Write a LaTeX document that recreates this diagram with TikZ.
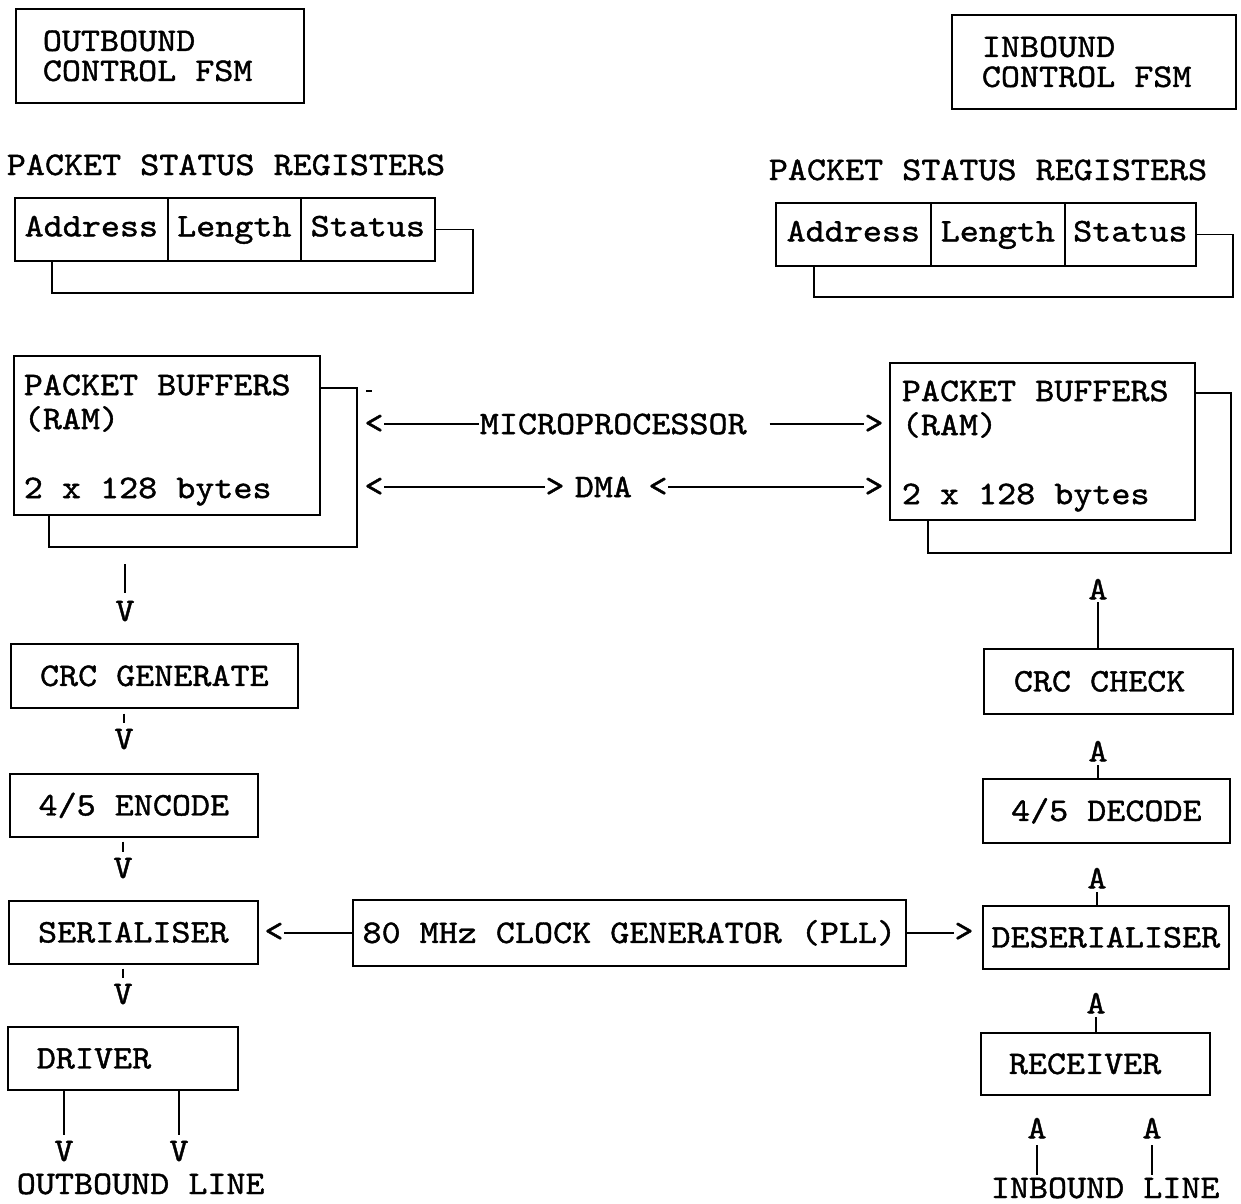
\documentclass[tikz,border=0pt]{standalone}
\usepackage{fontspec}
\newfontfamily\tw{lmmono10-regular.otf}[FakeStretch=1.1, FakeBold=1.2]
\newcommand\fsp{\spaceskip=0pt\xspaceskip=0pt\relax}
\begin{document}
\begin{tikzpicture}[x=1pt,y=-1pt, line width=1.7pt,
  every node/.style={font={\fontsize{33}{30}\tw}, inner sep=0pt},
  box/.style={draw, line width=1.7pt, anchor=north west, inner xsep=2pt, inner ysep=0pt},
  one/.style={text height=20.2pt, text depth=0pt},
  cell/.style={draw, line width=1.7pt, anchor=north west, minimum height=63pt, inner xsep=2pt, inner ysep=0pt, text height=21pt, text depth=7pt},
  arr/.style={anchor=center},
  head/.style={anchor=north}]
\useasboundingbox (0,0) rectangle (1241,1203);

% control FSMs
\node[box, minimum width=288pt, minimum height=94pt, inner xsep=27pt, text width=234pt, align=left] (outfsm) at (15,8) {\fsp OUTBOUND\\CONTROL FSM};
\node[box, minimum width=284pt, minimum height=94pt, inner xsep=30pt, text width=224pt, align=left] (infsm) at (951,14) {\fsp INBOUND\\CONTROL FSM};

% packet status registers
\node[anchor=base west] (tl) at (6,175) {PACKET STATUS REGISTERS};
\node[anchor=base west] (tr) at (768,180) {PACKET STATUS REGISTERS};

\node[cell, minimum width=153pt] (la) at (14,197) {Address};
\node[cell, minimum width=133pt] (ll) at (167,197) {Length};
\node[cell, minimum width=134pt] (ls) at (300,197) {Status};
\draw (ls.east) -| (473,293) -| ([xshift=38pt]la.south west);

\node[cell, minimum width=155pt] (ra) at (775,202) {Address};
\node[cell, minimum width=134pt] (rl) at (930,202) {Length};
\node[cell, minimum width=131pt] (rs) at (1064,202) {Status};
\draw (rs.east) -| (1233,297) -| ([xshift=39pt]ra.south west);

% packet buffers
\node[box, minimum width=306pt, minimum height=159pt, inner xsep=10pt, text width=286pt, align=left] (bl) at (13,355) {\fsp\rule{0pt}{30pt}PACKET BUFFERS\\[4pt](RAM)\\[39pt]2 x 128 bytes};
\draw ([yshift=-33pt]bl.north east) -| (357,547) -| ([xshift=36pt]bl.south west);
\node[box, minimum width=305pt, minimum height=157pt, inner xsep=12pt, text width=281pt, align=left] (br) at (889,362) {\fsp\rule{0pt}{30pt}PACKET BUFFERS\\[4pt](RAM)\\[39pt]2 x 128 bytes};
\draw ([yshift=-31pt]br.north east) -| (1231,553) -| ([xshift=39pt]br.south west);
\draw[line width=2.4pt] (366,391) -- (372,391);

% microprocessor / DMA
\node[anchor=west, one] (mp) at (479,424) {MICROPROCESSOR};
\node[arr] (mpl) at (374,424) {<};
\node[arr] (mpr) at (874,424) {>};
\draw (mpl.east) -- (mp.west);
\draw ([xshift=22pt]mp.east) -- (mpr.west);

\node[arr] (dl1) at (374,487) {<};
\node[arr] (dr1) at (555,487) {>};
\node[anchor=west, one] (dma) at (574,487) {DMA};
\node[arr] (dl2) at (658,487) {<};
\node[arr] (dr2) at (874,487) {>};
\draw (dl1.east) -- (dr1.west);
\draw (dl2.east) -- (dr2.west);

% clock
\node[box, one, minimum width=553pt, minimum height=66pt] (clk) at (352,899) {80 MHz CLOCK GENERATOR (PLL)};
\node[arr] (cl) at (274,932) {<};
\node[arr] (cr) at (964,932) {>};
\draw (clk.west -| cl.east) -- (clk.west);
\draw (clk.east) -- (clk.east -| cr.west);

% outbound column
\coordinate (s1) at (125,564);
\node[head] (v1) at (125,600) {V};
\draw (s1) -- ([yshift=7pt]v1.north);
\node[box, one, minimum width=287pt, minimum height=64pt] (gen) at (10,643) {CRC GENERATE};
\node[head] (v2) at (124,728) {V};
\draw (gen.south -| v2.north) ++(0,5) -- ([yshift=5pt]v2.north);
\node[box, one, minimum width=248pt, minimum height=63pt] (enc) at (9,773) {4/5 ENCODE};
\node[head] (v3) at (123,857) {V};
\draw (enc.south -| v3.north) ++(0,4) -- ([yshift=5pt]v3.north);
\node[box, one, minimum width=249pt, minimum height=63pt] (ser) at (8,900) {SERIALISER};
\node[head] (v4) at (123,983) {V};
\draw (ser.south -| v4.north) ++(0,4) -- ([yshift=5pt]v4.north);
\node[box, one, minimum width=230pt, minimum height=63pt, inner xsep=29pt, text width=172pt, align=left] (drv) at (7,1026) {DRIVER};
\node[head] (vo1) at (64,1140) {V};
\node[head] (vo2) at (179,1140) {V};
\draw (drv.south -| vo1.north) -- ([yshift=5pt]vo1.north);
\draw (drv.south -| vo2.north) -- ([yshift=5pt]vo2.north);
\node[anchor=base west] (outl) at (16,1194) {OUTBOUND LINE};

% inbound column
\node[head] (a1) at (1098,578) {A};
\node[box, one, minimum width=249pt, minimum height=65pt, inner xsep=30pt, text width=189pt, align=left] (chk) at (983,648) {\fsp CRC CHECK};
\draw ([yshift=-2pt]a1.south) -- (a1.south |- chk.north);
\node[head] (a2) at (1098,740) {A};
\node[box, one, minimum width=247pt, minimum height=64pt] (dec) at (982,778) {4/5 DECODE};
\draw ([yshift=-3pt]a2.south) -- (a2.south |- dec.north);
\node[head] (a3) at (1097,867) {A};
\node[box, one, minimum width=246pt, minimum height=63pt] (des) at (982,905) {DESERIALISER};
\draw ([yshift=-3pt]a3.south) -- (a3.south |- des.north);
\node[head] (a4) at (1096,992) {A};
\node[box, one, minimum width=229pt, minimum height=62pt, inner xsep=28pt, text width=173pt, align=left] (rcv) at (980,1032) {RECEIVER};
\draw ([yshift=-3pt]a4.south) -- (a4.south |- rcv.north);
\node[head] (a5) at (1037,1117) {A};
\node[head] (a6) at (1152,1117) {A};
\draw ([yshift=-6pt]a5.south) -- ++(0,30);
\draw ([yshift=-6pt]a6.south) -- ++(0,30);
\node[anchor=base west] (inl) at (990,1198) {INBOUND LINE};
\end{tikzpicture}
\end{document}
